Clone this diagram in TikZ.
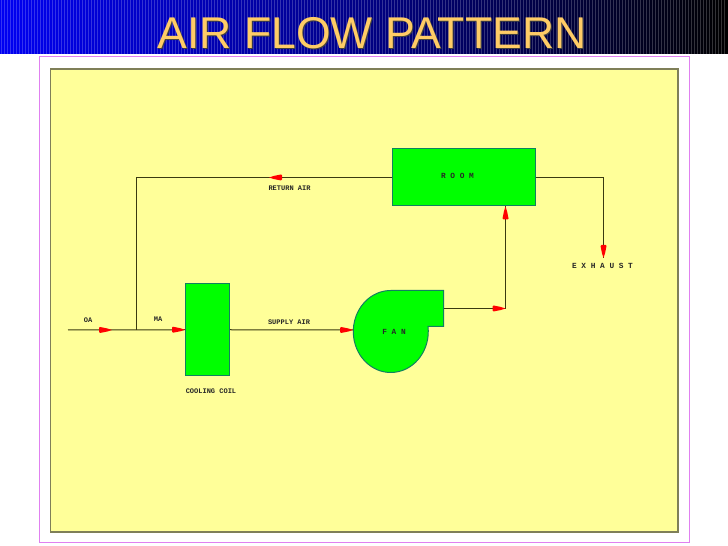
\documentclass[tikz,border=0pt]{standalone}
\usepackage{fontspec}
\setmainfont{Liberation Sans}
\newfontfamily\cadfont{Liberation Mono}
\definecolor{coilgreen}{HTML}{00FF00}
\definecolor{coiledge}{HTML}{108060}
\definecolor{sheet}{HTML}{FFFF99}
\definecolor{sheetedge}{HTML}{7F7F58}
\definecolor{frameline}{HTML}{E080F0}
\definecolor{titletext}{HTML}{FFCC66}
\definecolor{ductline}{HTML}{3A3A10}
\tikzset{
  unit/.style={draw=coiledge,fill=coilgreen,line width=1pt,inner sep=0pt},
  duct/.style={draw=ductline,line width=1pt},
  cadtext/.style={font=\cadfont\bfseries\fontsize{7}{8}\selectfont,text=black!85,inner sep=0pt},
  wideword/.style={cadtext,font=\cadfont\bfseries\fontsize{7.8}{8}\selectfont},
  titleword/.style={font=\fontsize{44.5}{45}\selectfont,inner sep=0pt},
  redtip/.pic={\fill[red] (0,0)--(-5,1.6)--(-12,3)--(-13,2)--(-13,-2)--(-12,-3)--(-5,-1.6)--cycle;}
}

\begin{document}
\begin{tikzpicture}[x=1pt,y=1pt]
  \useasboundingbox (0,0) rectangle (728,546);
  \fill[white] (0,0) rectangle (728,546);
  % banner
  \shade[left color=blue!95!black,right color=black,middle color=blue!52!black] (0,492) rectangle (728,546);
  \foreach \xpos in {1.5,4.5,...,727}
    \draw[white,opacity=0.2,line width=0.7pt] (\xpos,492) -- (\xpos,546);
  \node[titleword,text=black!75] (titleshadow) at (373,512.2) {AIR FLOW PATTERN};
  \node[titleword,text=titletext] (title) at (372,513.2) {AIR FLOW PATTERN};
  % sheet
  \draw[frameline,line width=1pt] (39.5,3) rectangle (689,489);
  \draw[sheetedge,fill=sheet,line width=1.2pt] (50.5,14) rectangle (678,477);
  % units
  \node[unit,minimum width=44pt,minimum height=92.5pt] (coil) at (207.5,216.25) {};
  \node[unit,minimum width=142.5pt,minimum height=57.5pt] (room) at (463.75,368.75) {};
  \draw[unit] (390.8,255.5) -- (443.5,255.5) -- (443.5,219.5) -- (428,219.5)
    arc[start angle=7,end angle=-270,x radius=37.5,y radius=41] -- cycle;
  \node[wideword] (fan) at (394,214.5) {F A N};
  % connectors
  \coordinate (oa) at (68,216);
  \coordinate (junction) at (136.5,216);
  \coordinate (fanin) at (353,216);
  \coordinate (fanout) at (443.5,237.5);
  \coordinate (riser) at (505.5,237.5);
  \coordinate (exhaustend) at (603.5,288);
  \draw[duct] (oa) -- (coil.west);
  \draw[duct] (coil.east) -- (fanin);
  \draw[duct] (fanout) -- (riser) -- (riser|-room.south);
  \draw[duct] (room.west) -- (junction|-room.west) -- (junction);
  \draw[duct] (room.east) -- (exhaustend|-room.east) -- (exhaustend);
  % arrow heads
  \pic at (112,216) {redtip};
  \pic at (coil.west) {redtip};
  \pic at (fanin) {redtip};
  \pic at (riser) {redtip};
  \pic[rotate=90] at (riser|-room.south) {redtip};
  \pic[rotate=-90] at (exhaustend) {redtip};
  \pic[rotate=180] at (269,368.5) {redtip};
  % labels
  \node[cadtext] (oalabel) at (88,226) {OA};
  \node[cadtext] (malabel) at (158,226.5) {MA};
  \node[cadtext] (coillabel) at (211,155) {COOLING COIL};
  \node[cadtext] (supplylabel) at (289,224) {SUPPLY AIR};
  \node[cadtext] (returnlabel) at (289.5,357.5) {RETURN AIR};
  \node[wideword] (roomlabel) at (457.5,370) {R O O M};
  \node[wideword] (exhaustlabel) at (602.5,280) {E X H A U S T};
\end{tikzpicture}
\end{document}
